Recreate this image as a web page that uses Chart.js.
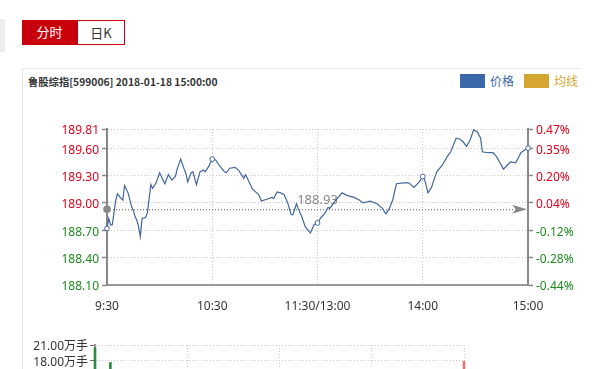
<!DOCTYPE html>
<html>
<head>
<meta charset="utf-8">
<script src="https://cdn.jsdelivr.net/npm/chart.js@4"></script>
<style>
  html, body { margin: 0; padding: 0; width: 593px; height: 369px; overflow: hidden; background: #fff; }
  body { position: relative; font-family: "Noto Sans", "Noto Sans CJK SC", sans-serif; }
  .strip { position: absolute; left: 0; top: 19px; width: 5px; height: 33px; background: #eeeeee; }
  .tab { position: absolute; top: 20px; height: 25px; line-height: 24px; font-size: 13px; text-align: center; box-sizing: border-box; font-family: "Noto Sans CJK SC", sans-serif; }
  .tab.on { left: 22px; width: 55px; background: #c9000b; color: #fff; }
  .tab.off { left: 77px; width: 48px; border: 1px solid #c9000b; color: #333; }
  .panel { position: absolute; left: 22px; top: 68px; width: 558px; height: 320px; border-top: 1px solid #e6e6e6; border-left: 1px solid #e6e6e6; }
  .title { position: absolute; left: 28px; top: 74px; font-size: 10.3px; font-weight: bold; color: #333; font-family: "Noto Sans CJK SC", sans-serif; white-space: nowrap; }
  .legend { position: absolute; top: 74px; font-size: 12px; font-family: "Noto Sans CJK SC", sans-serif; line-height: 14px; }
  .legend i { display: inline-block; width: 25px; height: 14px; vertical-align: top; margin-right: 5px; }
  #main { position: absolute; left: 40px; top: 115px; width: 540px; height: 205px; }
  #vol { position: absolute; left: 0; top: 330px; width: 593px; height: 132px; }
</style>
</head>
<body>
<div class="strip"></div>
<div class="tab on">分时</div>
<div class="tab off">日K</div>
<div class="panel"></div>
<div class="title">鲁股综指[599006] 2018-01-18 15:00:00</div>
<div class="legend" style="left:460px;color:#3a68a8"><i style="background:#3a68a8"></i>价格</div>
<div class="legend" style="left:524px;color:#d6a632"><i style="background:#d6a632"></i>均线</div>
<div id="main"><canvas id="chart"></canvas></div>
<div id="vol"><canvas id="volChart"></canvas></div>
<script>
// minute index from 9:30 (0) to 15:00 (240), lunch break removed
const minutes = [0, 1, 2, 3, 5, 6, 8, 9, 10, 12, 14, 15, 16, 17, 18, 19, 20, 22, 23, 25,
  26, 28, 30, 31, 33, 35, 37, 39, 40, 42, 44, 45, 46, 48, 49, 51, 53, 55, 56, 58,
  60, 62, 64, 67, 68, 70, 73, 75, 78, 79, 81, 83, 86, 87, 88, 91, 94, 95, 97, 99,
  101, 103, 105, 106, 108, 109, 111, 113, 115, 116, 118, 120, 122, 124, 126, 127, 130, 134, 137, 141,
  144, 146, 150, 154, 157, 159, 161, 163, 165, 169, 172, 175, 178, 180, 181, 183, 185, 186, 188, 191,
  194, 196, 199, 201, 203, 205, 207, 209, 211, 213, 214, 217, 220, 222, 224, 226, 228, 230, 233, 236,
  238, 240];
const prices = [188.72, 188.83, 188.76, 188.76, 189.03, 189.10, 189.05, 189.03, 189.19, 189.11, 188.96, 188.92, 188.85, 188.81, 188.74, 188.63, 188.83, 188.84, 188.89, 189.20,
  189.16, 189.22, 189.33, 189.29, 189.21, 189.31, 189.25, 189.29, 189.37, 189.48, 189.37, 189.32, 189.23, 189.33, 189.34, 189.20, 189.34, 189.36, 189.34, 189.40,
  189.48, 189.47, 189.41, 189.34, 189.33, 189.38, 189.39, 189.36, 189.27, 189.31, 189.23, 189.15, 189.10, 189.07, 189.02, 189.04, 189.06, 189.05, 189.12, 189.11,
  189.09, 189.00, 188.87, 188.87, 188.99, 188.94, 188.85, 188.74, 188.69, 188.67, 188.76, 188.78, 188.84, 188.88, 188.95, 188.94, 189.02, 189.11, 189.08, 189.06,
  189.03, 189.00, 189.02, 188.99, 188.94, 188.88, 188.94, 189.04, 189.21, 189.22, 189.22, 189.17, 189.23, 189.29, 189.26, 189.11, 189.17, 189.23, 189.34, 189.41,
  189.51, 189.56, 189.71, 189.70, 189.67, 189.62, 189.69, 189.80, 189.78, 189.71, 189.56, 189.55, 189.55, 189.51, 189.44, 189.37, 189.41, 189.45, 189.44, 189.55,
  189.58, 189.60];
const refPrice = 188.93;
const priceTicks = [189.81, 189.60, 189.30, 189.00, 188.70, 188.40, 188.10];
const pctLabels = ['0.47%', '0.35%', '0.20%', '0.04%', '-0.12%', '-0.28%', '-0.44%'];
const timeTicks = [0, 60, 120, 180, 240];
const timeLabels = ['9:30', '10:30', '11:30/13:00', '14:00', '15:00'];

// volume: only the top of the pane is visible
const volMinutes = [0, 10, 240];
const volValues = [20.5, 17.6, 17.8];
const volUp = [false, false, true];
const volTicks = [21, 18, 15, 12, 9, 6, 3, 0];

const RED = '#e0001b';
const GREEN = '#1e8a1e';
const FONT = '"Noto Sans", "Noto Sans CJK SC", sans-serif';

const refLine = {
  id: 'refLine',
  beforeDatasetsDraw(chart) {
    const { ctx, chartArea } = chart;
    const y = chart.scales.y.getPixelForValue(refPrice);
    ctx.save();
    ctx.strokeStyle = '#555';
    ctx.lineWidth = 1;
    ctx.setLineDash([1, 2]);
    ctx.beginPath();
    ctx.moveTo(chartArea.left, y + 0.5);
    ctx.lineTo(chartArea.right - 12, y + 0.5);
    ctx.stroke();
    ctx.setLineDash([]);
    ctx.fillStyle = '#888';
    ctx.font = '13px ' + FONT;
    ctx.textAlign = 'center';
    ctx.textBaseline = 'middle';
    ctx.fillText(refPrice.toFixed(2), (chartArea.left + chartArea.right) / 2, y - 9);
    ctx.restore();
  },
  afterDraw(chart) {
    const { ctx, chartArea } = chart;
    const y = chart.scales.y.getPixelForValue(refPrice);
    ctx.save();
    ctx.fillStyle = '#888';
    ctx.beginPath();
    ctx.arc(chartArea.left, y, 3.8, 0, Math.PI * 2);
    ctx.fill();
    ctx.beginPath();
    ctx.moveTo(chartArea.right - 16, y - 4.5);
    ctx.lineTo(chartArea.right - 1, y);
    ctx.lineTo(chartArea.right - 16, y + 4.5);
    ctx.lineTo(chartArea.right - 12, y);
    ctx.closePath();
    ctx.fill();
    ctx.restore();
  }
};

const priceColor = ctx => (ctx.tick.value > refPrice ? RED : GREEN);

new Chart(document.getElementById('chart'), {
  type: 'line',
  data: {
    datasets: [{
      label: '价格',
      data: minutes.map((m, i) => ({ x: m, y: prices[i] })),
      borderColor: '#41679e',
      borderWidth: 1.2,
      tension: 0,
      pointRadius: ctx => (ctx.raw && timeTicks.includes(ctx.raw.x) ? 2.4 : 0),
      pointBackgroundColor: '#fff',
      pointBorderColor: '#41679e',
      pointBorderWidth: 1,
      clip: false
    }]
  },
  options: {
    responsive: true,
    maintainAspectRatio: false,
    animation: false,
    layout: { padding: { top: 14 } },
    plugins: { legend: { display: false }, tooltip: { enabled: false } },
    scales: {
      x: {
        type: 'linear',
        min: 0,
        max: 240,
        afterBuildTicks: s => { s.ticks = timeTicks.map(v => ({ value: v })); },
        afterFit: s => { s.height = 35; },
        ticks: {
          autoSkip: false,
          maxRotation: 0,
          padding: 14,
          color: '#333',
          font: { size: 12, family: FONT },
          callback: (v, i) => timeLabels[i]
        },
        grid: { color: '#c8c8c8', drawTicks: false },
        border: { display: true, color: '#999', width: 2, dash: [1, 2] }
      },
      y: {
        position: 'left',
        min: 188.10,
        max: 189.81,
        afterBuildTicks: s => { s.ticks = priceTicks.map(v => ({ value: v })); },
        afterFit: s => { s.width = 67; },
        ticks: {
          autoSkip: false,
          padding: 3,
          labelOffset: 2,
          color: priceColor,
          font: { size: 12, family: FONT },
          callback: v => v.toFixed(2)
        },
        grid: { color: '#c8c8c8', tickColor: '#888', tickLength: 5, tickWidth: 1.5 },
        border: { color: '#888', width: 2, dash: [1, 2] }
      },
      y1: {
        position: 'right',
        min: 188.10,
        max: 189.81,
        afterBuildTicks: s => { s.ticks = priceTicks.map(v => ({ value: v })); },
        afterFit: s => { s.width = 52; },
        ticks: {
          autoSkip: false,
          padding: 3,
          labelOffset: 2,
          color: priceColor,
          font: { size: 12, family: FONT },
          callback: (v, i) => pctLabels[i]
        },
        grid: { drawOnChartArea: false, tickColor: '#888', tickLength: 5, tickWidth: 1.5 },
        border: { color: '#888', width: 2 }
      }
    }
  },
  plugins: [refLine]
});

new Chart(document.getElementById('volChart'), {
  type: 'bar',
  data: {
    datasets: [{
      data: volMinutes.map((m, i) => ({ x: m, y: volValues[i] })),
      backgroundColor: volUp.map(u => (u ? '#e57373' : '#2e8b46')),
      barThickness: 2,
      clip: false
    }]
  },
  options: {
    responsive: true,
    maintainAspectRatio: false,
    animation: false,
    layout: { padding: { top: 15, right: 129 } },
    plugins: { legend: { display: false }, tooltip: { enabled: false } },
    scales: {
      x: {
        type: 'linear',
        min: 0,
        max: 240,
        offset: false,
        afterBuildTicks: s => { s.ticks = timeTicks.map(v => ({ value: v })); },
        afterFit: s => { s.height = 0; },
        ticks: { display: false },
        grid: { color: '#c8c8c8', drawTicks: false, offset: false },
        border: { display: false, dash: [1, 2] }
      },
      y: {
        min: 0,
        max: 21,
        afterBuildTicks: s => { s.ticks = volTicks.map(v => ({ value: v })); },
        afterFit: s => { s.width = 95; },
        ticks: {
          autoSkip: false,
          padding: 2,
          labelOffset: 2,
          color: '#333',
          font: { size: 12, family: FONT },
          callback: v => v.toFixed(2) + '万手'
        },
        grid: { color: '#c8c8c8', tickColor: '#666', tickLength: 5, tickWidth: 1 },
        border: { color: '#999', width: 2, dash: [1, 2] }
      }
    }
  }
});
</script>
</body>
</html>
